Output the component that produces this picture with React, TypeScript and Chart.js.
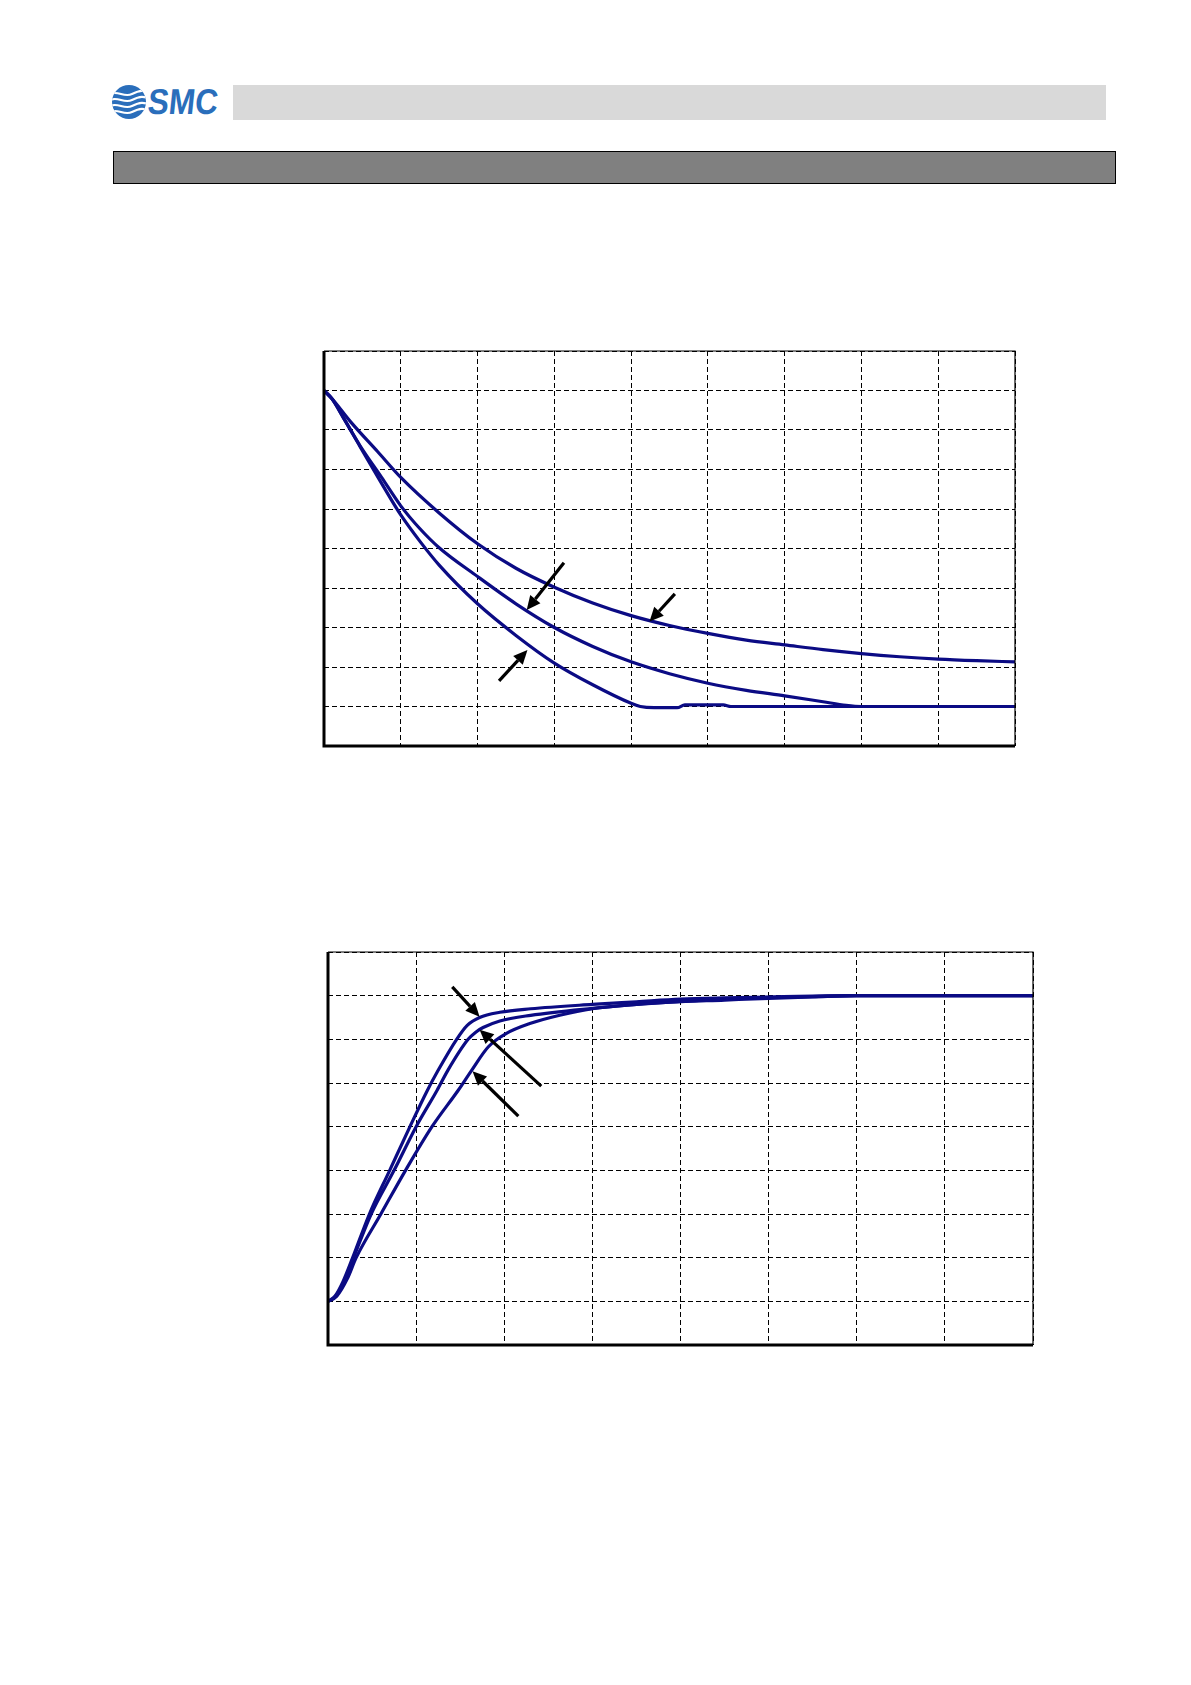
import React, { useEffect, useRef } from "react";
import { Chart, registerables } from "chart.js";

Chart.register(...registerables);

// ---------- Chart 1 (decreasing curves) ----------
const c1XMax = 9;
const c1YMax = 10;
const c1UpperX = [0, 0.1, 0.35, 0.7, 1, 1.5, 2, 2.5, 3, 3.5, 4, 4.5, 5, 5.5, 6, 6.5, 7, 7.5, 8, 8.5, 9];
const c1UpperY = [9, 8.8, 8.2, 7.45, 6.8, 5.9, 5.12, 4.5, 4.02, 3.62, 3.3, 3.05, 2.85, 2.68, 2.56, 2.44, 2.34, 2.26, 2.2, 2.16, 2.13];
const c1MiddleX = [0, 0.1, 0.25, 0.47, 0.75, 1, 1.25, 1.5, 2, 2.5, 3, 3.5, 4, 4.5, 5, 5.5, 6, 6.5, 6.8, 7, 8, 9];
const c1MiddleY = [9, 8.8, 8.32, 7.6, 6.8, 6.08, 5.5, 5.02, 4.29, 3.6, 3.0, 2.52, 2.13, 1.83, 1.59, 1.41, 1.27, 1.12, 1.03, 1.0, 1.0, 1.0];
const c1LowerX = [0, 0.1, 0.25, 0.47, 0.75, 1, 1.25, 1.5, 2, 2.5, 3, 3.5, 4, 4.12, 4.3, 4.6, 4.7, 5.2, 5.3, 6, 7, 8, 9];
const c1LowerY = [9, 8.8, 8.32, 7.58, 6.65, 5.85, 5.18, 4.58, 3.6, 2.8, 2.1, 1.55, 1.08, 1.0, 0.97, 0.97, 1.04, 1.04, 1.0, 1.0, 1.0, 1.0, 1.0];
// arrows: [fromX, fromY, toX, toY] in data units
const c1Arrows = [
  [3.125, 4.64, 2.64, 3.44],
  [4.57, 3.85, 4.24, 3.15],
  [2.28, 1.65, 2.65, 2.43],
];

// ---------- Chart 2 (rising curves) ----------
const c2XMax = 8;
const c2YMax = 9;
const c2LeftX = [0, 0.08, 0.17, 0.28, 0.47, 0.7, 0.93, 1.12, 1.25, 1.46, 1.58, 1.72, 1.95, 2.3, 3, 3.5, 4, 4.5, 5, 5.5, 6, 7, 8];
const c2LeftY = [1, 1.12, 1.45, 2.0, 3.0, 4.0, 5.0, 5.8, 6.29, 7.0, 7.32, 7.5, 7.62, 7.7, 7.8, 7.86, 7.92, 7.95, 7.97, 7.99, 8, 8, 8];
const c2MiddleX = [0, 0.08, 0.17, 0.29, 0.49, 0.75, 1.0, 1.24, 1.36, 1.59, 1.68, 1.76, 1.95, 2.3, 3, 3.5, 4, 4.5, 5, 5.5, 6, 7, 8];
const c2MiddleY = [1, 1.1, 1.4, 2.0, 3.0, 4.0, 5.0, 5.84, 6.29, 7.0, 7.17, 7.27, 7.42, 7.55, 7.71, 7.8, 7.87, 7.92, 7.96, 7.98, 8, 8, 8];
const c2RightX = [0, 0.1, 0.22, 0.32, 0.6, 0.88, 1.18, 1.48, 1.63, 1.82, 2.02, 2.29, 2.63, 3, 3.5, 3.88, 4.5, 5, 5.5, 6, 7, 8];
const c2RightY = [1, 1.12, 1.52, 2.0, 3.0, 4.0, 5.0, 5.84, 6.29, 6.83, 7.13, 7.36, 7.55, 7.7, 7.8, 7.85, 7.9, 7.94, 7.97, 8, 8, 8];
const c2Arrows = [
  [1.41, 8.2, 1.72, 7.52],
  [2.42, 5.93, 1.72, 7.22],
  [2.16, 5.24, 1.64, 6.27],
];

const NAVY = "#0b0b84";

function toPts(xs: number[], ys: number[]) {
  return xs.map((x, i) => ({ x: x, y: ys[i] }));
}

function makeFramePlugin(arrows: number[][]) {
  return {
    id: "frameArrows",
    afterDraw(chart: any) {
      const ctx = chart.ctx;
      const area = chart.chartArea;
      const sx = chart.scales.x;
      const sy = chart.scales.y;
      const left = area.left, right = area.right, top = area.top, bottom = area.bottom;
      ctx.save();
      ctx.setLineDash([]);
      ctx.strokeStyle = "#000";
      ctx.lineWidth = 1.2;
      ctx.beginPath();
      ctx.moveTo(left, top);
      ctx.lineTo(right, top);
      ctx.lineTo(right, bottom);
      ctx.stroke();
      ctx.lineWidth = 3;
      ctx.beginPath();
      ctx.moveTo(left, top);
      ctx.lineTo(left, bottom);
      ctx.lineTo(right, bottom);
      ctx.stroke();
      ctx.fillStyle = "#000";
      for (let k = 0; k < arrows.length; k++) {
        const a = arrows[k];
        const x1 = sx.getPixelForValue(a[0]);
        const y1 = sy.getPixelForValue(a[1]);
        const x2 = sx.getPixelForValue(a[2]);
        const y2 = sy.getPixelForValue(a[3]);
        const ang = Math.atan2(y2 - y1, x2 - x1);
        const headLen = 14;
        const headW = 6.5;
        const bx = x2 - headLen * Math.cos(ang);
        const by = y2 - headLen * Math.sin(ang);
        ctx.lineWidth = 3.2;
        ctx.beginPath();
        ctx.moveTo(x1, y1);
        ctx.lineTo(bx, by);
        ctx.stroke();
        ctx.beginPath();
        ctx.moveTo(x2, y2);
        ctx.lineTo(bx + headW * Math.sin(ang), by - headW * Math.cos(ang));
        ctx.lineTo(bx - headW * Math.sin(ang), by + headW * Math.cos(ang));
        ctx.closePath();
        ctx.fill();
      }
      ctx.restore();
    },
  };
}

function makeScale(max: number) {
  return {
    type: "linear",
    min: 0,
    max: max,
    ticks: { display: false, stepSize: 1 },
    grid: { display: true, color: "#000", lineWidth: 1, drawTicks: false, tickLength: 0 },
    border: { display: false, dash: [5, 3] },
  };
}

type Series = { x: number[]; y: number[] };

function LineChart(props: any) {
  const ref = useRef(null as any);
  useEffect(() => {
    const canvas = ref.current;
    if (!canvas) return;
    const series: Series[] = props.series;
    const config: any = {
      type: "line",
      data: {
        datasets: series.map((s) => ({
          data: toPts(s.x, s.y),
          borderColor: NAVY,
          borderWidth: 3.2,
          pointRadius: 0,
          fill: false,
          cubicInterpolationMode: "monotone",
        })),
      },
      options: {
        animation: false,
        responsive: false,
        maintainAspectRatio: false,
        layout: { padding: 10 },
        plugins: {
          legend: { display: false },
          tooltip: { enabled: false },
        },
        scales: {
          x: makeScale(props.xMax),
          y: makeScale(props.yMax),
        },
      },
      plugins: [makeFramePlugin(props.arrows)],
    };
    const chart = new Chart(canvas, config);
    return () => chart.destroy();
  }, []);
  return (
    <canvas
      ref={ref}
      width={props.width}
      height={props.height}
      style={{ position: "absolute", left: props.left, top: props.top, width: props.width, height: props.height }}
    />
  );
}

function Logo() {
  return (
    <svg width={110} height={40} style={{ position: "absolute", left: 110, top: 82 }}>
      <defs>
        <clipPath id="emblem">
          <circle cx={19} cy={20} r={17} />
        </clipPath>
      </defs>
      <circle cx={19} cy={20} r={17} fill="#2a6ebb" />
      <g clipPath="url(#emblem)" stroke="#fff" strokeWidth={2.2} fill="none">
        <path d="M0 12 C8 8, 14 16, 22 12 S34 8, 40 11" />
        <path d="M0 18 C8 14, 14 22, 22 18 S34 14, 40 17" />
        <path d="M0 24 C8 20, 14 28, 22 24 S34 20, 40 23" />
        <path d="M0 30 C8 26, 14 34, 22 30 S34 26, 40 29" />
      </g>
      <text
        x={37}
        y={32}
        fill="#2a6ebb"
        fontFamily="Liberation Sans, Arial, sans-serif"
        fontWeight="bold"
        fontSize={36}
        textLength={70}
        lengthAdjust="spacingAndGlyphs"
        transform="skewX(-6) translate(3,0)"
      >
        SMC
      </text>
    </svg>
  );
}

export default function App() {
  return (
    <div>
      <Logo />
      <div style={{ position: "absolute", left: 233, top: 85, width: 873, height: 35, background: "#d9d9d9" }} />
      <div
        style={{
          position: "absolute",
          left: 113,
          top: 151,
          width: 1003,
          height: 33,
          background: "#808080",
          border: "1.5px solid #000",
          boxSizing: "border-box",
        }}
      />
      <LineChart
        left={314}
        top={341}
        width={711}
        height={415}
        xMax={c1XMax}
        yMax={c1YMax}
        series={[
          { x: c1UpperX, y: c1UpperY },
          { x: c1MiddleX, y: c1MiddleY },
          { x: c1LowerX, y: c1LowerY },
        ]}
        arrows={c1Arrows}
      />
      <LineChart
        left={318}
        top={942}
        width={725}
        height={413}
        xMax={c2XMax}
        yMax={c2YMax}
        series={[
          { x: c2LeftX, y: c2LeftY },
          { x: c2MiddleX, y: c2MiddleY },
          { x: c2RightX, y: c2RightY },
        ]}
        arrows={c2Arrows}
      />
    </div>
  );
}
